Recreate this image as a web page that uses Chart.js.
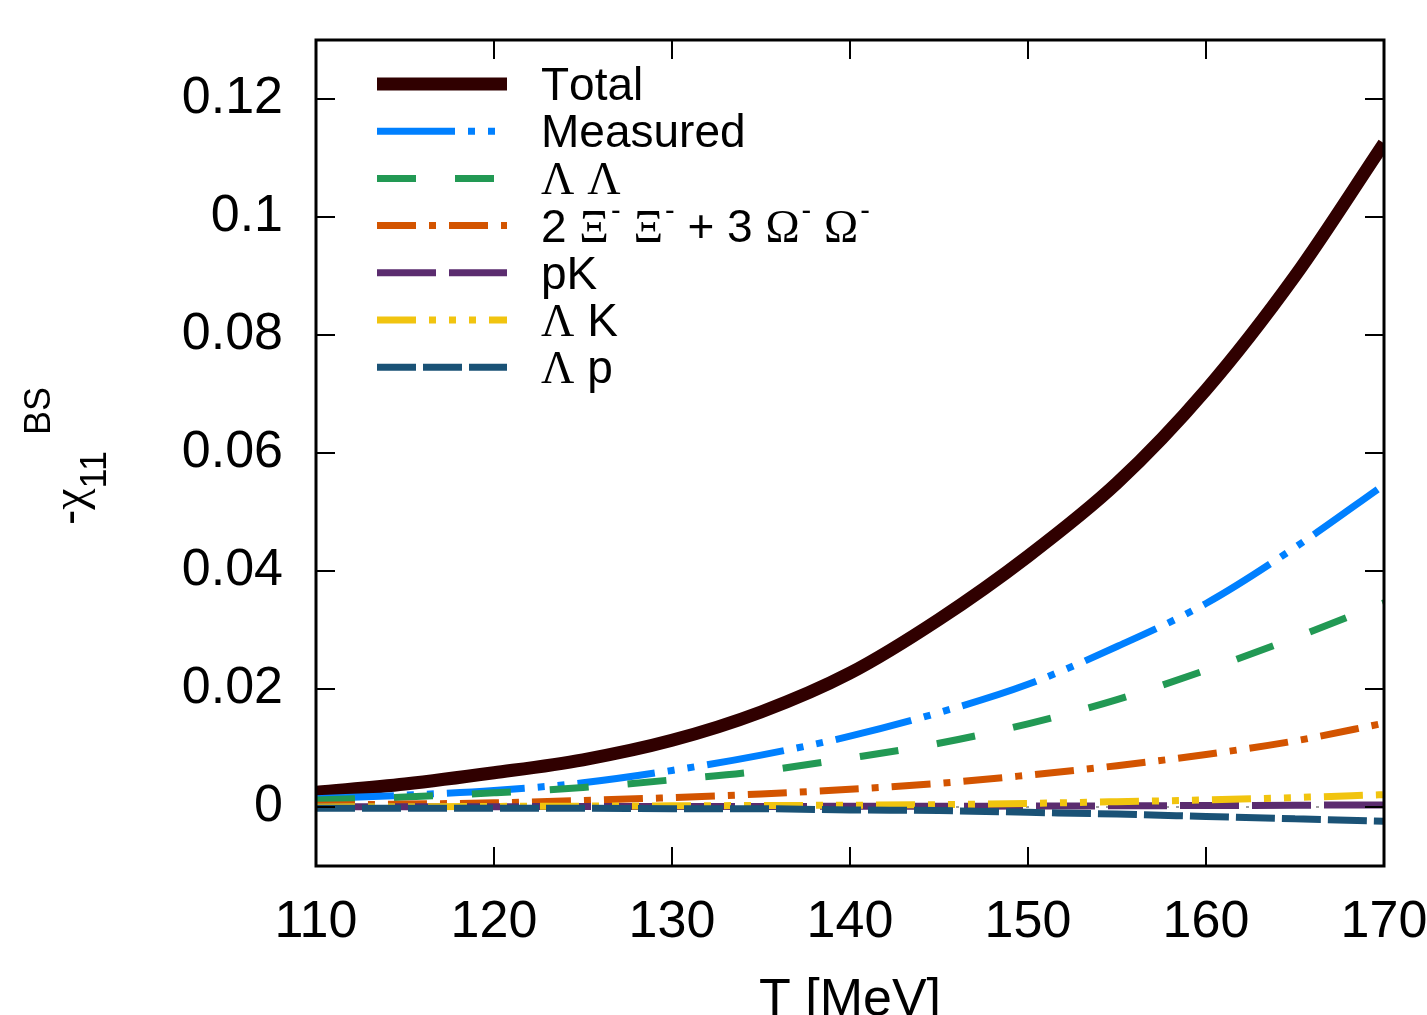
<!DOCTYPE html>
<html>
<head>
<meta charset="utf-8">
<title>chi11 BS</title>
<script src="https://cdn.jsdelivr.net/npm/chart.js@4.4.1/dist/chart.umd.min.js"></script>
<style>
    html, body { margin: 0; padding: 0; background: #fff; }
    #wrap { width: 1427px; height: 1015px; }
</style>
</head>
<body>
<div id="wrap"><canvas id="chi" width="1427" height="1015"></canvas></div>
<script>
// --- data ---
const temps    = [110, 115, 120, 125, 130, 135, 140, 145, 150, 155, 160, 165, 170];
const total    = [0.0025, 0.0039, 0.0058, 0.0080, 0.0113, 0.0161, 0.0227, 0.0318, 0.0425, 0.0549, 0.0707, 0.0900, 0.1125];
const measured = [0.0014, 0.0020, 0.0028, 0.0041, 0.0062, 0.0088, 0.0120, 0.0160, 0.0208, 0.0272, 0.0345, 0.0440, 0.0546];
const lamLam   = [0.0012, 0.0017, 0.0024, 0.0033, 0.0046, 0.0061, 0.0083, 0.0108, 0.0141, 0.0182, 0.0232, 0.0287, 0.0346];
const xiOmega  = [0.0003, 0.0005, 0.0007, 0.0011, 0.0016, 0.0022, 0.0030, 0.0040, 0.0054, 0.0070, 0.0089, 0.0112, 0.0142];
const pK       = [0.00005, 0.00005, 0.00006, 0.00007, 0.00008, 0.0001, 0.00011, 0.00013, 0.00016, 0.0002, 0.00025, 0.0003, 0.00036];
const lamK     = [0.0000, 0.00005, 0.0001, 0.00015, 0.0002, 0.00025, 0.0003, 0.0004, 0.0006, 0.0009, 0.0012, 0.0016, 0.0021];
const lamP     = [-0.0002, -0.0002, -0.0002, -0.0002, -0.0003, -0.0003, -0.0005, -0.0006, -0.0009, -0.0012, -0.0016, -0.0020, -0.0024];

const seriesLabels = ['Total', 'Measured', 'Λ Λ', '2 Ξ⁻ Ξ⁻ + 3 Ω⁻ Ω⁻', 'pK', 'Λ K', 'Λ p'];
const xTicks = [110, 120, 130, 140, 150, 160, 170];
const yTicks = [0, 0.02, 0.04, 0.06, 0.08, 0.1, 0.12];

const SANS = "'Liberation Sans', Arial, 'DejaVu Sans', sans-serif";
const SERIF = "'Liberation Serif', 'DejaVu Serif', serif";

function pts(values) {
    return temps.map((t, i) => ({ x: t, y: values[i] }));
}

// draws text, Greek letters in serif, '⁻' as a raised small minus
function drawRich(ctx, text, x, y, size) {
    let cx = x;
    for (const ch of text) {
        if (ch === '⁻') {
            ctx.font = `${Math.round(size * 0.62)}px ${SANS}`;
            ctx.fillText('-', cx + 2, y - size * 0.48);
            cx += ctx.measureText('-').width + 2;
        } else {
            ctx.font = /[\u0370-\u03FF]/.test(ch) ? `${size}px ${SERIF}` : `${size}px ${SANS}`;
            ctx.fillText(ch, cx, y);
            cx += ctx.measureText(ch).width;
        }
    }
    return cx - x;
}

// --- frame, inward ticks, key and axis titles ---
const decorations = {
    id: 'decorations',
    afterDraw(chart) {
        const { ctx, chartArea: a, scales: { x, y } } = chart;
        ctx.save();

        // ticks on all four sides, pointing in
        ctx.strokeStyle = '#000';
        ctx.lineWidth = 2;
        ctx.beginPath();
        x.ticks.forEach(t => {
            const px = Math.round(x.getPixelForValue(t.value));
            ctx.moveTo(px, a.bottom); ctx.lineTo(px, a.bottom - 19);
            ctx.moveTo(px, a.top); ctx.lineTo(px, a.top + 19);
        });
        y.ticks.forEach(t => {
            const py = Math.round(y.getPixelForValue(t.value));
            ctx.moveTo(a.left, py); ctx.lineTo(a.left + 19, py);
            ctx.moveTo(a.right, py); ctx.lineTo(a.right - 19, py);
        });
        ctx.stroke();

        ctx.lineWidth = 3;
        ctx.strokeRect(a.left, a.top, a.right - a.left, a.bottom - a.top);

        // key, inside top-left
        const sets = chart.data.datasets.filter(d => !d.noKey);
        ctx.fillStyle = '#000';
        ctx.textBaseline = 'alphabetic';
        ctx.textAlign = 'left';
        sets.forEach((d, i) => {
            const ly = a.top + 44 + i * 47.2;
            ctx.save();
            ctx.strokeStyle = d.borderColor;
            ctx.lineWidth = d.borderWidth;
            ctx.setLineDash(d.borderDash || []);
            ctx.beginPath();
            ctx.moveTo(a.left + 61, ly);
            ctx.lineTo(a.left + 191, ly);
            ctx.stroke();
            ctx.restore();
            drawRich(ctx, d.label, a.left + 225, ly + 16, 46);
        });

        // x title
        ctx.font = `52px ${SANS}`;
        ctx.textAlign = 'center';
        ctx.fillText('T [MeV]', (a.left + a.right) / 2, 1015);

        // y title: -chi_11^BS, rotated
        ctx.textAlign = 'left';
        ctx.translate(85, 525);
        ctx.rotate(-Math.PI / 2);
        ctx.font = `46px ${SANS}`;
        ctx.fillText('-', 0, 0);
        let u = ctx.measureText('-').width;
        ctx.font = `48px ${SERIF}`;
        ctx.fillText('χ', u, 0);
        u += ctx.measureText('χ').width;
        ctx.font = `36px ${SANS}`;
        ctx.fillText('11', u, 21);
        u += ctx.measureText('11').width + 16;
        ctx.fillText('BS', u, -35);

        ctx.restore();
    }
};

const lineStyle = (label, values, color, width, dash, order) => ({
    label: label,
    data: pts(values),
    borderColor: color,
    borderWidth: width,
    borderDash: dash,
    borderCapStyle: 'butt',
    pointRadius: 0,
    fill: false,
    cubicInterpolationMode: 'monotone',
    order: order
});

const datasets = [
    lineStyle(seriesLabels[0], total, '#300000', 13, [], 7),
    lineStyle(seriesLabels[1], measured, '#0080ff', 7, [78, 13, 7, 13, 7, 13], 6),
    lineStyle(seriesLabels[2], lamLam, '#229954', 7, [39, 39], 5),
    lineStyle(seriesLabels[3], xiOmega, '#d35400', 7, [39, 13, 7, 13], 4),
    lineStyle(seriesLabels[4], pK, '#5b2c6f', 7, [59, 13], 3),
    lineStyle(seriesLabels[5], lamK, '#f1c40f', 7, [39, 13, 7, 13, 7, 13, 7, 13], 2),
    lineStyle(seriesLabels[6], lamP, '#1a5276', 7, [39, 7], 1),
    {
        // zero axis
        label: 'zero',
        noKey: true,
        data: [{ x: xTicks[0], y: 0 }, { x: xTicks[xTicks.length - 1], y: 0 }],
        borderColor: '#a0a0a0',
        borderWidth: 2,
        borderDash: [3, 7],
        pointRadius: 0,
        order: 10
    }
];

new Chart(document.getElementById('chi'), {
    type: 'line',
    data: { datasets: datasets },
    options: {
        responsive: false,
        animation: false,
        layout: { padding: { top: 40, right: 43, left: 0, bottom: 0 } },
        plugins: {
            legend: { display: false },
            tooltip: { enabled: false }
        },
        scales: {
            x: {
                type: 'linear',
                min: 110,
                max: 170,
                afterFit: s => {
                    s.height = 149;
                    s.paddingLeft = 0;
                    s.paddingRight = 0;
                },
                afterBuildTicks: s => { s.ticks = xTicks.map(v => ({ value: v })); },
                grid: { display: false, drawTicks: false },
                border: { display: false },
                ticks: {
                    color: '#000',
                    padding: 25,
                    maxRotation: 0,
                    autoSkip: false,
                    font: { family: SANS, size: 52 }
                }
            },
            y: {
                min: -0.01,
                max: 0.13,
                afterFit: s => {
                    s.width = 316;
                    s.paddingTop = 0;
                    s.paddingBottom = 0;
                },
                afterBuildTicks: s => { s.ticks = yTicks.map(v => ({ value: v })); },
                grid: { display: false, drawTicks: false },
                border: { display: false },
                ticks: {
                    color: '#000',
                    padding: 33,
                    font: { family: SANS, size: 52 },
                    callback: v => String(+v.toFixed(4))
                }
            }
        }
    },
    plugins: [decorations]
});
</script>
</body>
</html>
